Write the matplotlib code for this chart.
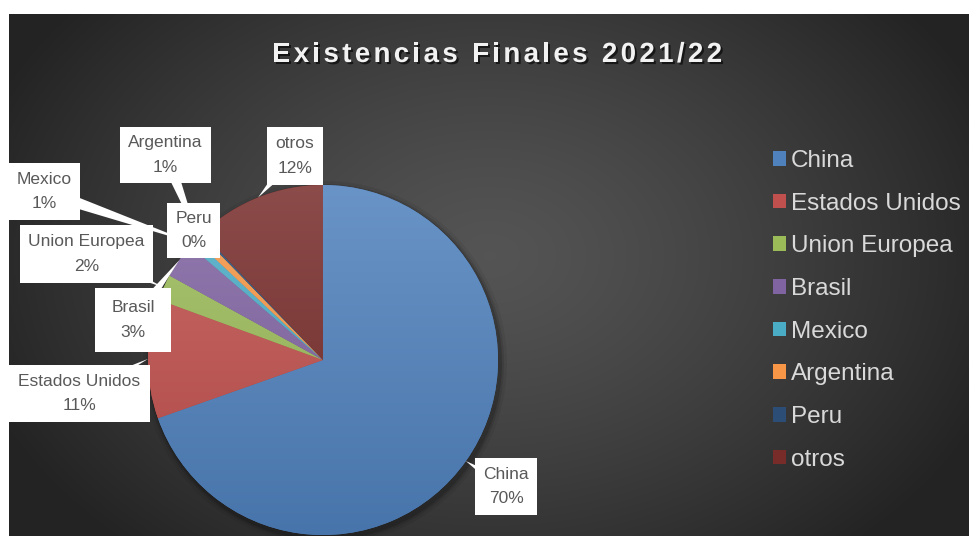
import numpy as np
import matplotlib.pyplot as plt
import matplotlib.patheffects as pe
from matplotlib import font_manager
from matplotlib.ft2font import FT2Font
from matplotlib.patches import Rectangle, Polygon, Circle
from matplotlib.colors import to_rgb

plt.rcParams['font.family'] = ['Liberation Sans', 'DejaVu Sans']

W, H = 974, 536

# datos
titulo = "Existencias Finales 2021/22"
paises = ["China", "Estados Unidos", "Union Europea", "Brasil", "Mexico", "Argentina", "Peru", "otros"]
porcentajes = [69.6, 11.0, 2.4, 3.3, 0.7, 0.7, 0.2, 12.1]
colores = ["#4F81BD", "#C0504D", "#9BBB59", "#8064A2", "#4BACC6", "#F79646", "#2C4D75", "#772C2A"]

# cajas de etiquetas en pixeles de imagen (x0, y0, x1, y1)
cajas = {
    "China": (475, 458, 537, 515),
    "Estados Unidos": (9, 365, 150, 422),
    "Union Europea": (20, 225, 153, 283),
    "Brasil": (95, 288, 171, 352),
    "Mexico": (9, 163, 80, 220),
    "Argentina": (120, 127, 211, 183),
    "Peru": (167, 203, 220, 258),
    "otros": (267, 127, 323, 185),
}

cx, cy, R = 323, H - 360, 175

fig = plt.figure(figsize=(W / 100, H / 100), dpi=100, facecolor="white")
ax = fig.add_axes([0, 0, 1, 1])

# fondo con degradado radial
gx, gy = np.meshgrid(np.linspace(9, 969, 480), np.linspace(0, H - 14, 260))
d = np.sqrt(((gx - 490) / 540) ** 2 + ((gy - 280) / 390) ** 2)
v = 0.33 - 0.19 * np.clip(d, 0, 1) ** 1.3
ax.imshow(np.dstack([v, v, v]), extent=(9, 969, 0, H - 14), origin="lower",
          zorder=0, interpolation="bilinear")

# sombra del pastel
for dr, a in [(7, 0.06), (4, 0.1), (2, 0.15)]:
    ax.add_patch(Circle((cx + 2, cy - 3), R + dr, color="black", alpha=a, lw=0, zorder=0.5))

wedges, _ = ax.pie(porcentajes, colors=colores, startangle=90, counterclock=False,
                   center=(cx, cy), radius=R, frame=True, wedgeprops=dict(linewidth=0))

# degradado en cada porcion
ys = np.linspace(0, 1, 256)[:, None, None]
for w, c in zip(wedges, colores):
    base = np.array(to_rgb(c))
    top = base + (1 - base) * 0.15
    bot = base * 0.9
    grad = bot + (top - bot) * ys
    im = ax.imshow(grad, extent=(cx - R, cx + R, cy - R, cy + R), origin="lower",
                   zorder=2, interpolation="bilinear")
    im.set_clip_path(w)

# etiquetas con llamadas
for w, nombre, val in zip(wedges, paises, porcentajes):
    ang = np.deg2rad((w.theta1 + w.theta2) / 2)
    tx, ty = cx + R * np.cos(ang), cy + R * np.sin(ang)
    x0, y0, x1, y1 = cajas[nombre]
    bx, by = (x0 + x1) / 2, H - (y0 + y1) / 2
    dx, dy = tx - bx, ty - by
    n = np.array([-dy, dx]) / np.hypot(dx, dy)
    hw = 7
    poly = [(bx + n[0] * hw, by + n[1] * hw), (bx - n[0] * hw, by - n[1] * hw), (tx, ty)]
    ax.add_patch(Polygon(poly, closed=True, fc="white", ec="none", zorder=3))
    ax.add_patch(Rectangle((x0, H - y1), x1 - x0, y1 - y0, fc="white", ec="none", zorder=4))
    ax.text(bx, by, f"{nombre}\n{val:.0f}%", ha="center", va="center", fontsize=12.5,
            color="#595959", linespacing=1.78, zorder=5)

# leyenda
leg = ax.legend(wedges, paises, loc="upper left", bbox_to_anchor=(773 / W, 1 - 150 / H),
                frameon=False, fontsize=17.5, labelcolor="#D9D9D9", handlelength=0.55,
                handleheight=0.55, handletextpad=0.2, labelspacing=0.85,
                borderpad=0, borderaxespad=0)

# titulo con espaciado entre letras
fp = font_manager.FontProperties(family="Liberation Sans", weight="bold", size=20)
ft = FT2Font(font_manager.findfont(fp))
ft.set_size(20, 72)
adv = [ft.load_char(ord(ch)).linearHoriAdvance / 65536 * 100 / 72 for ch in titulo]
espacio = 3.3
total = sum(adv) + espacio * (len(titulo) - 1)
x = 497 - total / 2
for ch, a in zip(titulo, adv):
    ax.text(x, H - 62, ch, fontproperties=fp, color="#F2F2F2", ha="left", va="baseline",
            zorder=6, path_effects=[pe.withSimplePatchShadow(offset=(1.5, -1.5),
                                                             shadow_rgbFace="black", alpha=0.6)])
    x += a + espacio

ax.set_aspect("auto")
ax.set_xlim(0, W)
ax.set_ylim(0, H)
ax.axis("off")

fig.savefig("out.png", dpi=100, facecolor="white")
